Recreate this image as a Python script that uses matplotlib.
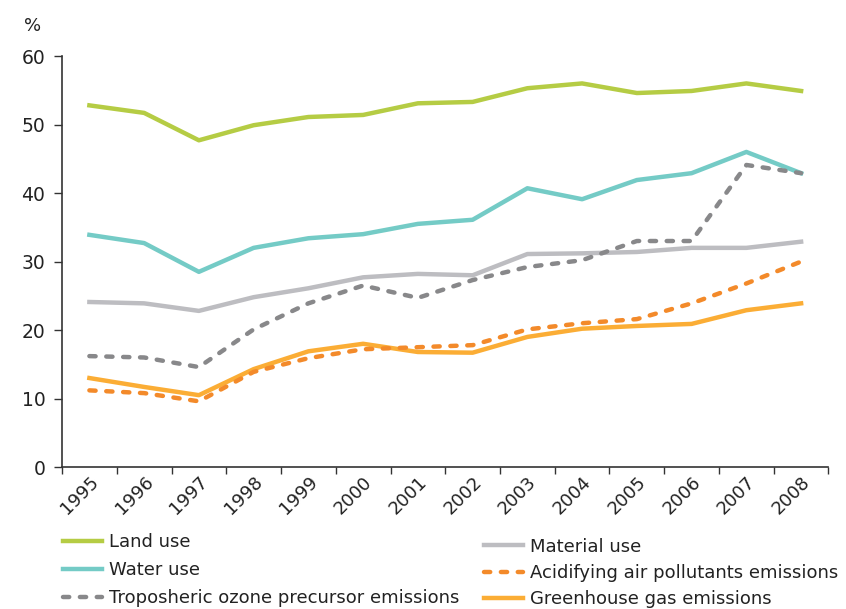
import matplotlib
matplotlib.use('Agg')
import matplotlib.pyplot as plt
from matplotlib.lines import Line2D

plt.rcParams['font.family'] = ['DejaVu Sans']

years = ['1995', '1996', '1997', '1998', '1999', '2000', '2001',
         '2002', '2003', '2004', '2005', '2006', '2007', '2008']

land_use = [52.8, 51.7, 47.7, 49.9, 51.1, 51.4, 53.1, 53.3, 55.3, 56.0,
            54.6, 54.9, 56.0, 54.9]
water_use = [33.9, 32.7, 28.5, 32.0, 33.4, 34.0, 35.5, 36.1, 40.7, 39.1,
             41.9, 42.9, 46.0, 42.9]
material_use = [24.1, 23.9, 22.8, 24.8, 26.1, 27.7, 28.2, 28.0, 31.1, 31.2,
                31.4, 32.0, 32.0, 32.9]
ozone = [16.2, 16.0, 14.6, 20.1, 23.9, 26.5, 24.7, 27.3, 29.2, 30.2,
         33.0, 33.0, 44.1, 42.9]
acidifying = [11.2, 10.8, 9.6, 13.9, 15.9, 17.2, 17.5, 17.8, 20.1, 21.0,
              21.6, 23.9, 26.8, 30.0]
greenhouse = [13.0, 11.7, 10.5, 14.3, 16.9, 18.0, 16.8, 16.7, 19.0, 20.2,
              20.6, 20.9, 22.9, 23.9]

c_land = '#b5cc44'
c_water = '#74cbc6'
c_mat = '#bdbdc1'
c_ozone = '#88888a'
c_acid = '#f38a2a'
c_ghg = '#fbad35'

dots = (0, (1.4, 2.4))
lw = 3.2

fig = plt.figure(figsize=(8.46, 6.09), dpi=100)
ax = fig.add_axes([0.0733, 0.233, 0.906, 0.675])

x = list(range(len(years)))
ax.plot(x, land_use, color=c_land, lw=lw, zorder=3)
ax.plot(x, water_use, color=c_water, lw=lw, zorder=3)
ax.plot(x, material_use, color=c_mat, lw=lw, zorder=2)
ax.plot(x, ozone, color=c_ozone, lw=lw, ls=dots, dash_capstyle='round', zorder=3)
ax.plot(x, greenhouse, color=c_ghg, lw=lw, zorder=2)
ax.plot(x, acidifying, color=c_acid, lw=lw, ls=dots, dash_capstyle='round', zorder=3)

ax.set_xlim(-0.5, len(years) - 0.5)
ax.set_ylim(0, 60)
ax.set_yticks([0, 10, 20, 30, 40, 50, 60])
ax.set_xticks(x)
ax.set_xticklabels(years, rotation=45, ha='right', rotation_mode='anchor')
ax.set_xticks([i - 0.5 for i in range(len(years) + 1)], minor=True)
ax.tick_params(axis='x', which='major', length=0, pad=4, labelsize=13,
               labelcolor='#222222')
ax.tick_params(axis='x', which='minor', length=5, color='#333333', width=1)
ax.tick_params(axis='y', length=6, color='#333333', width=1, labelsize=13.5,
               labelcolor='#222222', pad=6)
for s in ['top', 'right']:
    ax.spines[s].set_visible(False)
for s in ['left', 'bottom']:
    ax.spines[s].set_color('#333333')
    ax.spines[s].set_linewidth(1.2)

fig.text(0.028, 0.958, '%', fontsize=13, color='#222222', va='center')

# legend in two columns
handles1 = [Line2D([], [], color=c_land, lw=lw),
            Line2D([], [], color=c_water, lw=lw),
            Line2D([], [], color=c_ozone, lw=lw, ls=dots, dash_capstyle='round')]
labels1 = ['Land use', 'Water use', 'Troposheric ozone precursor emissions']
handles2 = [Line2D([], [], color=c_mat, lw=lw),
            Line2D([], [], color=c_acid, lw=lw, ls=dots, dash_capstyle='round'),
            Line2D([], [], color=c_ghg, lw=lw)]
labels2 = ['Material use', 'Acidifying air pollutants emissions',
           'Greenhouse gas emissions']

leg_kw = dict(frameon=False, fontsize=13, handlelength=2.15, handletextpad=0.4,
              borderpad=0, borderaxespad=0)
leg1 = fig.legend(handles1, labels1, loc='upper left', labelspacing=0.55,
                  bbox_to_anchor=(0.075, 0.124), **leg_kw)
leg2 = fig.legend(handles2, labels2, loc='upper left', labelspacing=0.45,
                  bbox_to_anchor=(0.572, 0.117), **leg_kw)
for leg in (leg1, leg2):
    for t in leg.get_texts():
        t.set_color('#222222')

fig.savefig('out.png', dpi=100)
